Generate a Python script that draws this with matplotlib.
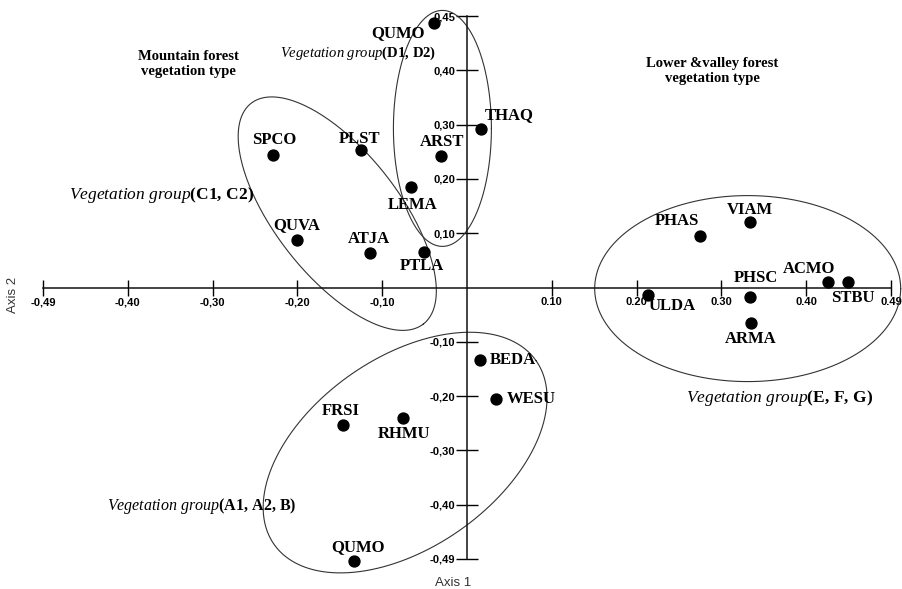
import matplotlib
matplotlib.use("Agg")
import matplotlib.pyplot as plt
import numpy as np

# species codes and their scores on axis 1 / axis 2
species = ["QUMO", "THAQ", "ARST", "LEMA", "PTLA", "PLST", "SPCO", "QUVA", "ATJA",
           "BEDA", "WESU", "FRSI", "RHMU", "QUMO",
           "ULDA", "PHAS", "VIAM", "PHSC", "ARMA", "ACMO", "STBU"]
axis1 = [-0.039, 0.016, -0.031, -0.066, -0.051, -0.125, -0.229, -0.201, -0.114,
         0.015, 0.034, -0.146, -0.076, -0.133,
         0.213, 0.275, 0.334, 0.334, 0.335, 0.426, 0.449]
axis2 = [0.487, 0.292, 0.242, 0.185, 0.065, 0.253, 0.244, 0.087, 0.063,
         -0.134, -0.205, -0.253, -0.240, -0.504,
         -0.013, 0.094, 0.120, -0.018, -0.065, 0.011, 0.011]
# label offset from the dot (points) and alignment
label_dx = [-26, 21, 1, 1, -1, -1, 1, 0, -1, 7, 8, -2, 1, 3, 1, -17, 0, 4, 0, -14, 4]
label_dy = [-7, 10, 10, -13, -10, 8, 11, 11, 10, 0, 0, 10, -12, 10, -8, 11, 9, 14, -12, 9, -12]
label_ha = ["center"] * 9 + ["left", "left"] + ["center"] * 3 + ["left"] + ["center"] * 6

xticks = [-0.5, -0.4, -0.3, -0.2, -0.1, 0.1, 0.2, 0.3, 0.4, 0.5]
xticklabels = ["-0,49", "-0,40", "-0,30", "-0,20", "-0,10", "0.10", "0.20", "0.30", "0.40", "0.49"]
yticks = [0.5, 0.4, 0.3, 0.2, 0.1, -0.1, -0.2, -0.3, -0.4, -0.5]
yticklabels = ["0,45", "0,40", "0,30", "0,20", "0,10", "-0,10", "-0,20", "-0,30", "-0,40", "-0,49"]

# group ellipses: centre (data), half axes (px), angle (deg)
groups = ["D1, D2", "C1, C2", "A1, A2, B", "E, F, G"]
ell_center = [(-0.029, 0.293), (-0.153, 0.136), (-0.073, -0.304), (0.331, -0.002)]
ell_half = [(49, 118), (140, 62), (160, 95), (153, 93)]
ell_angle = [0, -52, 35, 0]
group_pos = [(-0.128, 0.431), (-0.360, 0.170), (-0.313, -0.403), (0.369, -0.204)]
group_size = [10.5, 12.5, 11.5, 12.5]

plt.rcParams.update({
    "mathtext.fontset": "custom",
    "mathtext.rm": "Liberation Serif",
    "mathtext.it": "Liberation Serif:italic",
    "mathtext.bf": "Liberation Serif:bold",
})

fig = plt.figure(figsize=(9.02, 5.89), dpi=100)
ax = fig.add_axes([43 / 902, 30 / 589, 848 / 902, 543 / 589])
ax.set_xlim(-0.5, 0.5)
ax.set_ylim(-0.5, 0.5)
ax.patch.set_visible(False)

for s in ["top", "right"]:
    ax.spines[s].set_visible(False)
ax.spines["left"].set_position(("data", 0))
ax.spines["bottom"].set_position(("data", 0))
for s in ["left", "bottom"]:
    ax.spines[s].set_linewidth(1.1)
    ax.spines[s].set_color("#111111")

ax.set_xticks(xticks)
ax.set_xticklabels(xticklabels)
ax.set_yticks(yticks)
ax.set_yticklabels(yticklabels)
ax.tick_params(axis="x", direction="inout", length=12, width=1, pad=1)
ax.tick_params(axis="y", direction="inout", length=16, width=1, pad=0.5)
for lab in ax.get_xticklabels() + ax.get_yticklabels():
    lab.set_fontfamily("Liberation Sans")
    lab.set_fontweight("bold")
    lab.set_fontsize(8)

ax.scatter(axis1, axis2, s=62, color="black", zorder=3, clip_on=False)
for i, name in enumerate(species):
    ax.annotate(name, (axis1[i], axis2[i]), xytext=(label_dx[i], label_dy[i]),
                textcoords="offset points", ha=label_ha[i], va="center",
                fontfamily="Liberation Serif", fontweight="bold", fontsize=12,
                annotation_clip=False)

# ellipses in pixel space, converted back to data units
sx = ax.bbox.width / 1.0
sy = ax.bbox.height / 1.0
t = np.linspace(0, 2 * np.pi, 300)
for (cx, cy), (a, b), ang in zip(ell_center, ell_half, ell_angle):
    th = np.radians(ang)
    u = a * np.cos(t) * np.cos(th) - b * np.sin(t) * np.sin(th)
    v = a * np.cos(t) * np.sin(th) + b * np.sin(t) * np.cos(th)
    ax.plot(cx + u / sx, cy + v / sy, color="#333333", linewidth=0.8, clip_on=False)

for g, (gx, gy), fs in zip(groups, group_pos, group_size):
    txt = r"$\mathit{Vegetation\ group}\mathbf{(" + g.replace(" ", r"\,") + ")}$"
    ax.text(gx, gy, txt, ha="center", va="center", fontsize=fs)

ax.text(-0.328, 0.411, "Mountain forest\nvegetation type", ha="center", va="center",
        fontfamily="Liberation Serif", fontweight="bold", fontsize=10.5, linespacing=1.2)
ax.text(0.289, 0.398, "Lower &valley forest\nvegetation type", ha="center", va="center",
        fontfamily="Liberation Serif", fontweight="bold", fontsize=10.5, linespacing=1.2)

fig.text(453 / 902, 1 - 583 / 589, "Axis 1", ha="center", va="center",
         fontfamily="Liberation Sans", fontsize=9.5, color="#333333")
fig.text(13 / 902, 1 - 295 / 589, "Axis 2", ha="center", va="center", rotation=90,
         fontfamily="Liberation Sans", fontsize=9.5, color="#333333")

fig.savefig("out.png", dpi=100)
